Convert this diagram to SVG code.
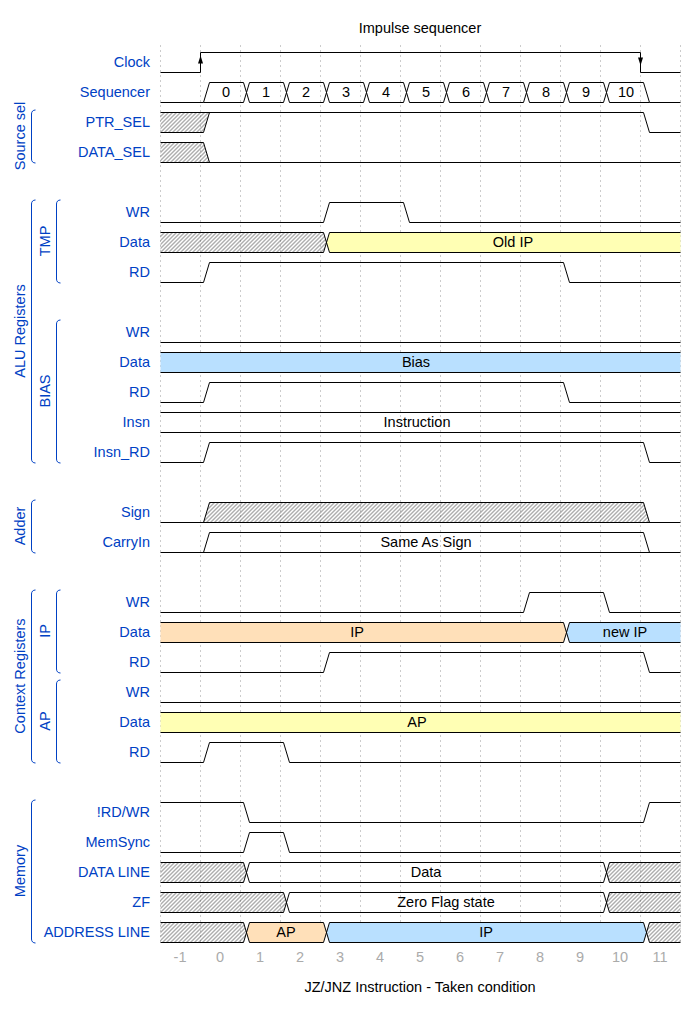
<svg xmlns="http://www.w3.org/2000/svg" width="700" height="1012" viewBox="0 0 700 1012">
<defs>
<pattern id="hatch" width="4" height="4" patternUnits="userSpaceOnUse">
<path d="M-1,1 l2,-2 M0,4 l4,-4 M3,5 l2,-2" stroke="#333" stroke-width="0.8"/>
</pattern>
<style>
text{font-family:"Liberation Sans",Arial,Helvetica,sans-serif;font-size:14.5px}
.lbl{fill:#0041c4;text-anchor:end}
.grp{fill:#0041c4;text-anchor:middle}
.dt{fill:#000;text-anchor:middle}
.tick{fill:#aaa;text-anchor:middle}
.w{fill:none;stroke:#000;stroke-width:1}
.h{fill:url(#hatch);stroke:none}
.y{fill:#ffffb4;stroke:none}
.o{fill:#ffe0b9;stroke:none}
.b{fill:#b9e0ff;stroke:none}
.br{fill:none;stroke:#0041c4;stroke-width:1}
.grid{stroke:#ccc;stroke-width:1;stroke-dasharray:2,3}
</style>
</defs>
<rect width="700" height="1012" fill="#fff"/>
<g id="grid" class="grid" transform="translate(0.5,0)">
<path d="M160,45V945M200,45V945M240,45V945M280,45V945M320,45V945M360,45V945M400,45V945M440,45V945M480,45V945M520,45V945M560,45V945M600,45V945M640,45V945M680,45V945"/>
</g>
<text class="dt" x="420" y="33">Impulse sequencer</text>
<text class="dt" x="420" y="992">JZ/JNZ Instruction - Taken condition</text>
<g id="ticks">
<text class="tick" x="180" y="962">-1</text><text class="tick" x="220" y="962">0</text><text class="tick" x="260" y="962">1</text><text class="tick" x="300" y="962">2</text><text class="tick" x="340" y="962">3</text><text class="tick" x="380" y="962">4</text><text class="tick" x="420" y="962">5</text><text class="tick" x="460" y="962">6</text><text class="tick" x="500" y="962">7</text><text class="tick" x="540" y="962">8</text><text class="tick" x="580" y="962">9</text><text class="tick" x="620" y="962">10</text><text class="tick" x="660" y="962">11</text>
</g>
<g id="connectors">
<g id="grp-source" class="br"><path d="M35.5,110 c-2.5,0 -4,1.5 -4,4 V159 c0,2.5 1.5,4 4,4"/></g>
<g id="grp-alu" class="br"><path d="M35.5,200 c-2.5,0 -4,1.5 -4,4 V459 c0,2.5 1.5,4 4,4"/></g>
<g id="grp-tmp" class="br"><path d="M60.5,200 c-2.5,0 -4,1.5 -4,4 V279 c0,2.5 1.5,4 4,4"/></g>
<g id="grp-bias" class="br"><path d="M60.5,320 c-2.5,0 -4,1.5 -4,4 V459 c0,2.5 1.5,4 4,4"/></g>
<g id="grp-adder" class="br"><path d="M35.5,500 c-2.5,0 -4,1.5 -4,4 V549 c0,2.5 1.5,4 4,4"/></g>
<g id="grp-ctx" class="br"><path d="M35.5,590 c-2.5,0 -4,1.5 -4,4 V759 c0,2.5 1.5,4 4,4"/></g>
<g id="grp-ip" class="br"><path d="M60.5,590 c-2.5,0 -4,1.5 -4,4 V669 c0,2.5 1.5,4 4,4"/></g>
<g id="grp-ap" class="br"><path d="M60.5,680 c-2.5,0 -4,1.5 -4,4 V759 c0,2.5 1.5,4 4,4"/></g>
<g id="grp-mem" class="br"><path d="M35.5,800 c-2.5,0 -4,1.5 -4,4 V939 c0,2.5 1.5,4 4,4"/></g>
</g>
<g id="group-labels">
<text class="grp" transform="translate(25,136) rotate(-90)">Source sel</text>
<text class="grp" transform="translate(25,331) rotate(-90)">ALU Registers</text>
<text class="grp" transform="translate(50,241) rotate(-90)">TMP</text>
<text class="grp" transform="translate(50,391) rotate(-90)">BIAS</text>
<text class="grp" transform="translate(25,526) rotate(-90)">Adder</text>
<text class="grp" transform="translate(25,676) rotate(-90)">Context Registers</text>
<text class="grp" transform="translate(50,631) rotate(-90)">IP</text>
<text class="grp" transform="translate(50,721) rotate(-90)">AP</text>
<text class="grp" transform="translate(25,871) rotate(-90)">Memory</text>
</g>
<g id="clock"><text class="lbl" x="150" y="67">Clock</text>
<g transform="translate(0.5,0.5)"><path class="w" d="M160,72H200V52H640V72H680"/>
<polygon points="200,55 197.5,63 202.5,63" fill="#000"/><polygon points="637.5,57 642.5,57 640,65" fill="#000"/></g></g>
<g id="sequencer"><text class="lbl" x="150" y="97">Sequencer</text>
<g transform="translate(0.5,0.5)" class="w">
<path d="M160,102H203M649,102H680"/>
<polygon points="203,102 209,82 243,82 246,92 243,102"/>
<polygon points="246,92 249,82 283,82 286,92 283,102 249,102"/>
<polygon points="286,92 289,82 323,82 326,92 323,102 289,102"/>
<polygon points="326,92 329,82 363,82 366,92 363,102 329,102"/>
<polygon points="366,92 369,82 403,82 406,92 403,102 369,102"/>
<polygon points="406,92 409,82 443,82 446,92 443,102 409,102"/>
<polygon points="446,92 449,82 483,82 486,92 483,102 449,102"/>
<polygon points="486,92 489,82 523,82 526,92 523,102 489,102"/>
<polygon points="526,92 529,82 563,82 566,92 563,102 529,102"/>
<polygon points="566,92 569,82 603,82 606,92 603,102 569,102"/>
<polygon points="606,92 609,82 643,82 649,102 609,102"/>
</g>
<text class="dt" x="226" y="97">0</text><text class="dt" x="266" y="97">1</text><text class="dt" x="306" y="97">2</text><text class="dt" x="346" y="97">3</text><text class="dt" x="386" y="97">4</text><text class="dt" x="426" y="97">5</text><text class="dt" x="466" y="97">6</text><text class="dt" x="506" y="97">7</text><text class="dt" x="546" y="97">8</text><text class="dt" x="586" y="97">9</text><text class="dt" x="626" y="97">10</text>
</g>
<g id="ptr_sel"><text class="lbl" x="150" y="127">PTR_SEL</text>
<g transform="translate(0.5,0.5)"><polygon class="h" points="160,112 209,112 203,132 160,132"/>
<path class="w" d="M160,112H643L649,132H680M160,132H203L209,112"/></g></g>
<g id="data_sel"><text class="lbl" x="150" y="157">DATA_SEL</text>
<g transform="translate(0.5,0.5)"><polygon class="h" points="160,142 203,142 209,162 160,162"/>
<path class="w" d="M160,142H203L209,162M160,162H680"/></g></g>
<g id="tmp_wr"><text class="lbl" x="150" y="217">WR</text>
<path transform="translate(0.5,0.5)" class="w" d="M160,222H323L329,202H403L409,222H680"/></g>
<g id="tmp_data"><text class="lbl" x="150" y="247">Data</text>
<g transform="translate(0.5,0.5)"><polygon class="h" points="160,232 323,232 326,242 323,252 160,252"/>
<polygon class="y" points="326,242 329,232 680,232 680,252 329,252"/>
<path class="w" d="M160,232H323L329,252H680M160,252H323L329,232H680"/></g>
<text class="dt" x="513" y="247">Old IP</text></g>
<g id="tmp_rd"><text class="lbl" x="150" y="277">RD</text>
<path transform="translate(0.5,0.5)" class="w" d="M160,282H203L209,262H563L569,282H680"/></g>
<g id="bias_wr"><text class="lbl" x="150" y="337">WR</text>
<path transform="translate(0.5,0.5)" class="w" d="M160,342H680"/></g>
<g id="bias_data"><text class="lbl" x="150" y="367">Data</text>
<g transform="translate(0.5,0.5)"><rect class="b" x="160" y="352" width="520" height="20"/>
<path class="w" d="M160,352H680M160,372H680"/></g>
<text class="dt" x="416" y="367">Bias</text></g>
<g id="bias_rd"><text class="lbl" x="150" y="397">RD</text>
<path transform="translate(0.5,0.5)" class="w" d="M160,402H203L209,382H563L569,402H680"/></g>
<g id="insn"><text class="lbl" x="150" y="427">Insn</text>
<path transform="translate(0.5,0.5)" class="w" d="M160,412H680M160,432H680"/>
<text class="dt" x="417" y="427">Instruction</text></g>
<g id="insn_rd"><text class="lbl" x="150" y="457">Insn_RD</text>
<path transform="translate(0.5,0.5)" class="w" d="M160,462H203L209,442H643L649,462H680"/></g>
<g id="sign"><text class="lbl" x="150" y="517">Sign</text>
<g transform="translate(0.5,0.5)"><polygon class="h" points="203,522 209,502 643,502 649,522"/>
<path class="w" d="M160,522H680M203,522L209,502H643L649,522"/></g></g>
<g id="carryin"><text class="lbl" x="150" y="547">CarryIn</text>
<path transform="translate(0.5,0.5)" class="w" d="M160,552H680M203,552L209,532H643L649,552"/>
<text class="dt" x="426" y="547">Same As Sign</text></g>
<g id="ip_wr"><text class="lbl" x="150" y="607">WR</text>
<path transform="translate(0.5,0.5)" class="w" d="M160,612H523L529,592H603L609,612H680"/></g>
<g id="ip_data"><text class="lbl" x="150" y="637">Data</text>
<g transform="translate(0.5,0.5)"><polygon class="o" points="160,622 563,622 566,632 563,642 160,642"/>
<polygon class="b" points="566,632 569,622 680,622 680,642 569,642"/>
<path class="w" d="M160,622H563L569,642H680M160,642H563L569,622H680"/></g>
<text class="dt" x="357" y="637">IP</text><text class="dt" x="625" y="637">new IP</text></g>
<g id="ip_rd"><text class="lbl" x="150" y="667">RD</text>
<path transform="translate(0.5,0.5)" class="w" d="M160,672H323L329,652H643L649,672H680"/></g>
<g id="ap_wr"><text class="lbl" x="150" y="697">WR</text>
<path transform="translate(0.5,0.5)" class="w" d="M160,702H680"/></g>
<g id="ap_data"><text class="lbl" x="150" y="727">Data</text>
<g transform="translate(0.5,0.5)"><rect class="y" x="160" y="712" width="520" height="20"/>
<path class="w" d="M160,712H680M160,732H680"/></g>
<text class="dt" x="417" y="727">AP</text></g>
<g id="ap_rd"><text class="lbl" x="150" y="757">RD</text>
<path transform="translate(0.5,0.5)" class="w" d="M160,762H203L209,742H283L289,762H680"/></g>
<g id="rd_wr"><text class="lbl" x="150" y="817">!RD/WR</text>
<path transform="translate(0.5,0.5)" class="w" d="M160,802H243L249,822H643L649,802H680"/></g>
<g id="memsync"><text class="lbl" x="150" y="847">MemSync</text>
<path transform="translate(0.5,0.5)" class="w" d="M160,852H243L249,832H283L289,852H680"/></g>
<g id="data_line"><text class="lbl" x="150" y="877">DATA LINE</text>
<g transform="translate(0.5,0.5)"><polygon class="h" points="160,862 243,862 246,872 243,882 160,882"/>
<polygon class="h" points="606,872 609,862 680,862 680,882 609,882"/>
<path class="w" d="M160,862H243L249,882H603L609,862H680M160,882H243L249,862H603L609,882H680"/></g>
<text class="dt" x="426" y="877">Data</text></g>
<g id="zf"><text class="lbl" x="150" y="907">ZF</text>
<g transform="translate(0.5,0.5)"><polygon class="h" points="160,892 283,892 286,902 283,912 160,912"/>
<polygon class="h" points="606,902 609,892 680,892 680,912 609,912"/>
<path class="w" d="M160,892H283L289,912H603L609,892H680M160,912H283L289,892H603L609,912H680"/></g>
<text class="dt" x="446" y="907">Zero Flag state</text></g>
<g id="address_line"><text class="lbl" x="150" y="937">ADDRESS LINE</text>
<g transform="translate(0.5,0.5)"><polygon class="h" points="160,922 243,922 246,932 243,942 160,942"/>
<polygon class="o" points="246,932 249,922 323,922 326,932 323,942 249,942"/>
<polygon class="b" points="326,932 329,922 643,922 646,932 643,942 329,942"/>
<polygon class="h" points="646,932 649,922 680,922 680,942 649,942"/>
<path class="w" d="M160,922H243L249,942H323L329,922H643L649,942H680M160,942H243L249,922H323L329,942H643L649,922H680"/></g>
<text class="dt" x="286" y="937">AP</text><text class="dt" x="486" y="937">IP</text></g>
</svg>
